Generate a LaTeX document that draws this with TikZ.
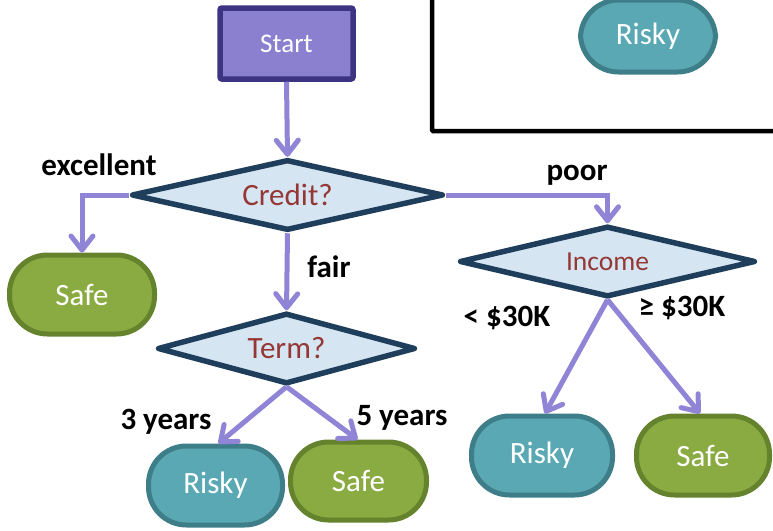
\documentclass[tikz,border=0pt]{standalone}
\usepackage{fontspec}
\setmainfont{Carlito}
\usetikzlibrary{arrows.meta,shapes.geometric}
\definecolor{startfill}{HTML}{8B80D0}
\definecolor{startline}{HTML}{3C3480}
\definecolor{arrowc}{HTML}{8F84D6}
\definecolor{diafill}{HTML}{D6E5F2}
\definecolor{dialine}{HTML}{1F3E5C}
\definecolor{diatext}{HTML}{953735}
\definecolor{riskyfill}{HTML}{5AA8B4}
\definecolor{riskyline}{HTML}{3E7E88}
\definecolor{safefill}{HTML}{8AAB42}
\definecolor{safeline}{HTML}{65822D}
\tikzset{
  startbox/.style={rectangle, draw=startline, fill=startfill, line width=5.5pt, rounded corners=2pt,
    minimum width=133pt, minimum height=71pt, text=white, font=\fontsize{27}{32}\selectfont},
  decision/.style={diamond, draw=dialine, fill=diafill, line width=5.5pt, line join=round, aspect=4, inner sep=0pt,
    minimum height=71pt, text=diatext, font=\fontsize{31}{36}\selectfont},
  term/.style={rectangle, line width=5pt, rounded corners=38pt, minimum height=79pt, text=white,
    font=\fontsize{31}{36}\selectfont},
  risky/.style={term, draw=riskyline, fill=riskyfill},
  safe/.style={term, draw=safeline, fill=safefill},
  lab/.style={font=\bfseries\fontsize{31}{36}\selectfont, text=black, inner sep=0pt},
  arr/.style={draw=arrowc, line width=5pt, -{Straight Barb[length=14pt,width=22pt,line width=5pt,round]}},
}
\begin{document}
\begin{tikzpicture}[x=1pt,y=-1pt]
\useasboundingbox (0,0) rectangle (773,530);
\clip (0,0) rectangle (773,530);
\fill[white] (0,0) rectangle (773,530);
% black frame (legend box)
\draw[line width=4.5pt, rounded corners=1pt] (432,-20) -- (432,131) -- (800,131);
\node[risky, minimum width=135pt, minimum height=72pt] (riskytop) at (648,36) {Risky};

\node[startbox] (start) at (286.5,43.5) {Start};
\node[decision, minimum width=312pt] (credit) at (287.5,195) {Credit?};
\node[decision, minimum width=258pt] (term) at (286.5,348.5) {Term?};
\node[decision, minimum width=296pt, font=\fontsize{27.5}{32}\selectfont] (income) at (607.5,261.5) {\raisebox{-1.5pt}{Income}};

\node[safe, minimum width=145pt] (safeA) at (82,294.5) {Safe};
\node[risky, minimum width=134pt] (riskyB) at (215.5,485.5) {Risky};
\node[safe, minimum width=136pt, minimum height=78pt] (safeB) at (358.5,481) {Safe};
\node[risky, minimum width=141pt] (riskyC) at (542,455.5) {Risky};
\node[safe, minimum width=133pt] (safeC) at (703,455.5) {Safe};

\draw[arr] (start.south) -- (credit.north);
\draw[arr] (credit.west) -| (safeA.north);
\draw[arr] (credit.south) -- (term.north);
\draw[arr] (credit.east) -| (income.north);
\draw[arr] (term.south) -- ([xshift=3pt]riskyB.north);
\draw[arr] (term.south) -- ([xshift=-1pt]safeB.north);
\draw[arr] (income.south) -- ([xshift=3pt]riskyC.north);
\draw[arr] (income.south) -- ([xshift=-3pt]safeC.north);

\node[lab] (lexc) at (99,165) {excellent};
\node[lab] (lfair) at (329,267) {fair};
\node[lab] (lpoor) at (577,175) {poor};
\node[lab] (l3y) at (166,422) {3 years};
\node[lab] (l5y) at (402,418) {5 years};
\node[lab] (llow) at (507,318) {< \$30K};
\node[lab] (lhigh) at (682,308) {≥ \$30K};
\end{tikzpicture}
\end{document}
